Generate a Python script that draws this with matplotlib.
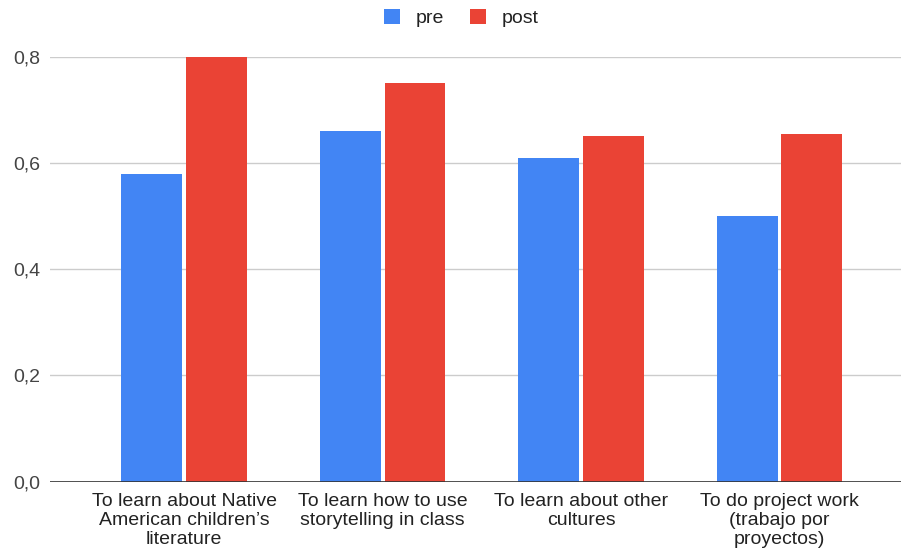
import matplotlib
matplotlib.use("Agg")
import matplotlib.pyplot as plt
import numpy as np
from matplotlib.ticker import FuncFormatter

categories = [
    "To learn about Native\nAmerican children\u2019s\nliterature",
    "To learn how to use\nstorytelling in class",
    "To learn about other\ncultures",
    "To do project work\n(trabajo por\nproyectos)",
]
pre = [0.58, 0.66, 0.61, 0.50]
post = [0.80, 0.75, 0.65, 0.655]
series_names = ["pre", "post"]
y_ticks = [0.0, 0.2, 0.4, 0.6, 0.8]

plt.rcParams["font.family"] = ["Liberation Sans", "DejaVu Sans"]

fig = plt.figure(figsize=(9.01, 5.5), dpi=100)
ax = fig.add_axes([50 / 901, 68.3 / 550, 851 / 901, 425 / 550])

x = np.arange(len(categories))
w = 0.307
off = 0.163
blue, red = "#4285F4", "#EA4335"
ax.bar(x - off, pre, w, color=blue, label=series_names[0], zorder=3, clip_on=False)
ax.bar(x + off, post, w, color=red, label=series_names[1], zorder=3, clip_on=False)

ax.set_xlim(-0.676, 3.612)
ax.set_ylim(0, 0.8)
ax.set_yticks(y_ticks)
ax.yaxis.set_major_formatter(FuncFormatter(lambda v, p: f"{v:.1f}".replace(".", ",")))
ax.grid(axis="y", color="#cccccc", linewidth=1, zorder=0)
ax.axhline(0, color="#333333", linewidth=1.2, zorder=4)

for s in ax.spines.values():
    s.set_visible(False)

ax.set_xticks(x)
ax.set_xticklabels(categories, fontsize=14, color="#222222", linespacing=1.18)
ax.tick_params(axis="x", length=0, pad=8)
ax.tick_params(axis="y", length=0, pad=7, labelsize=14, labelcolor="#444444")

fig.legend(loc="center", bbox_to_anchor=(0.512, 1 - 18 / 550), ncol=2, frameon=False,
           fontsize=14, handlelength=0.8, handleheight=0.8, columnspacing=1.35,
           handletextpad=0.8, labelcolor="#222222", borderpad=0, borderaxespad=0)

fig.savefig("out.png", dpi=100)
